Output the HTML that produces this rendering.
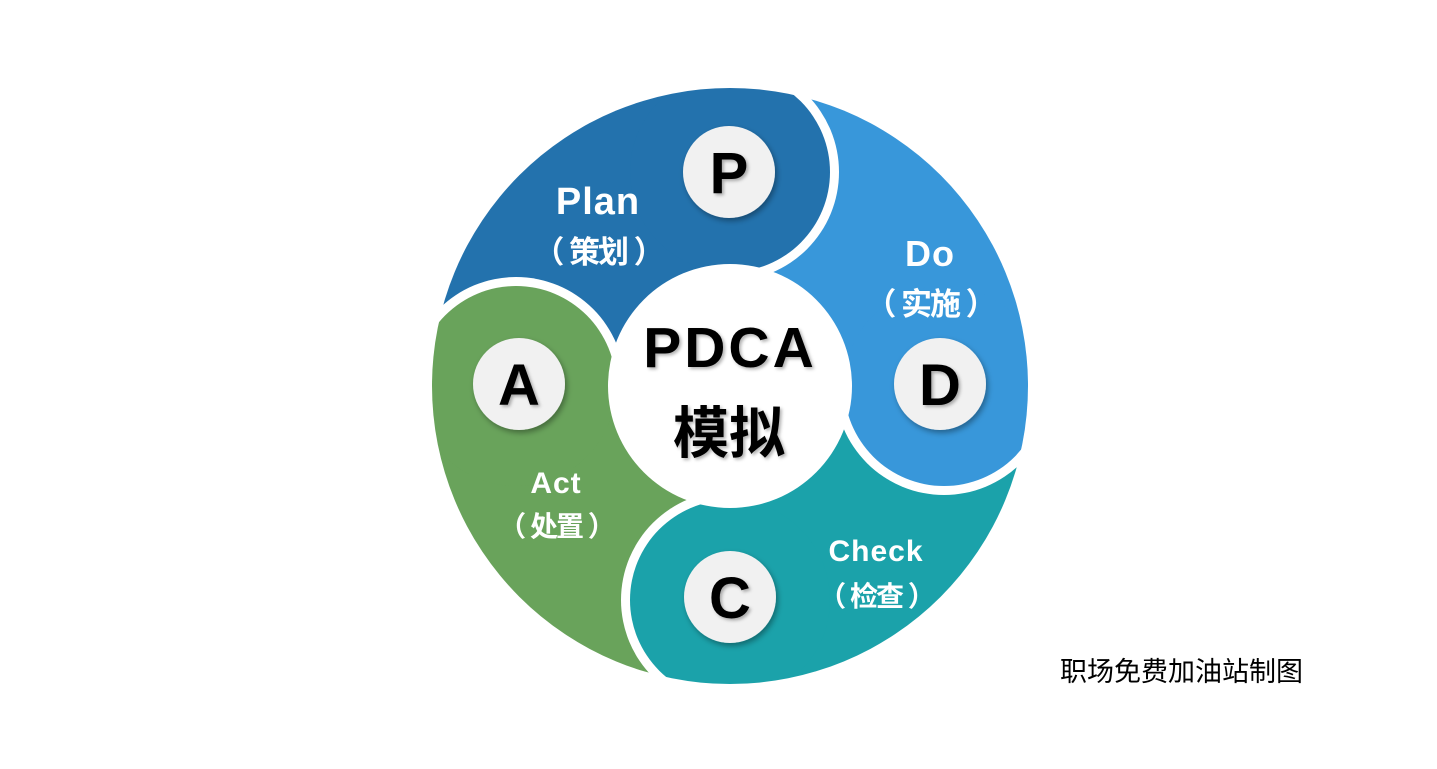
<!DOCTYPE html>
<html><head><meta charset="utf-8"><style>
html,body{margin:0;padding:0;background:#fff;width:1437px;height:769px;overflow:hidden}
svg{display:block}
.lb{font-family:"Liberation Sans","Noto Sans CJK SC",sans-serif;font-weight:bold;fill:#fff;text-anchor:middle}
.lt{font-family:"Liberation Sans","Noto Sans CJK SC",sans-serif;font-weight:bold;fill:#000;text-anchor:middle}
</style></head><body>
<svg width="1437" height="769" viewBox="0 0 1437 769">
<defs>
<mask id="m" maskUnits="userSpaceOnUse" x="-400" y="-400" width="800" height="800">
<rect x="-400" y="-400" width="800" height="800" fill="#fff"/>
<circle cx="-214" cy="0" r="109" fill="#000"/>
<circle cx="0" cy="0" r="122" fill="#000"/>
</mask>
<clipPath id="c"><circle cx="0" cy="0" r="298"/></clipPath>
<filter id="sh" x="-30%" y="-30%" width="160%" height="160%"><feDropShadow dx="2" dy="3" stdDeviation="3" flood-color="#000" flood-opacity="0.35"/></filter>
<filter id="ts" x="-10%" y="-10%" width="120%" height="130%"><feDropShadow dx="2" dy="2" stdDeviation="1.5" flood-color="#000" flood-opacity="0.3"/></filter>
<g id="seg">
<polygon points="0,0 -314.1,-61.1 -251.6,-373 61.1,-314.1"/>
<circle cx="0" cy="-214" r="100"/>
</g>
</defs>
<g transform="translate(730,386)">
<g mask="url(#m)" clip-path="url(#c)" fill="#2372ad"><use href="#seg"/></g>
<g transform="rotate(90)"><g mask="url(#m)" clip-path="url(#c)" fill="#3897da"><use href="#seg"/></g></g>
<g transform="rotate(180)"><g mask="url(#m)" clip-path="url(#c)" fill="#1ba2aa"><use href="#seg"/></g></g>
<g transform="rotate(270)"><g mask="url(#m)" clip-path="url(#c)" fill="#69a35b"><use href="#seg"/></g></g>
</g>
<g fill="#f1f1f1" filter="url(#sh)">
<circle cx="729" cy="172" r="46"/>
<circle cx="940" cy="384" r="46"/>
<circle cx="730" cy="597" r="46"/>
<circle cx="519" cy="384" r="46"/>
</g>
<g class="lt" font-size="58" filter="url(#ts)">
<text x="729" y="193">P</text>
<text x="940" y="405">D</text>
<text x="730" y="618">C</text>
<text x="519" y="405">A</text>
<text x="730" y="367" font-size="57" letter-spacing="3">PDCA</text>
<text x="729" y="453" font-size="56">模拟</text>
</g>
<g class="lb">
<text x="598" y="214" font-size="38" letter-spacing="1">Plan</text>
<text x="598" y="263" font-size="31" letter-spacing="-2">（ 策划 ）</text>
<text x="930" y="266" font-size="36" letter-spacing="1">Do</text>
<text x="930" y="315" font-size="31" letter-spacing="-2">（ 实施 ）</text>
<text x="556" y="493" font-size="30" letter-spacing="1">Act</text>
<text x="556" y="536" font-size="28" letter-spacing="-2">（ 处置 ）</text>
<text x="876" y="561" font-size="30" letter-spacing="1">Check</text>
<text x="876" y="606" font-size="28" letter-spacing="-2">（ 检查 ）</text>
</g>
<text x="1060" y="681" font-family="'Liberation Sans','Noto Sans CJK SC',sans-serif" font-size="27" fill="#000">职场免费加油站制图</text>
</svg>
</body></html>
